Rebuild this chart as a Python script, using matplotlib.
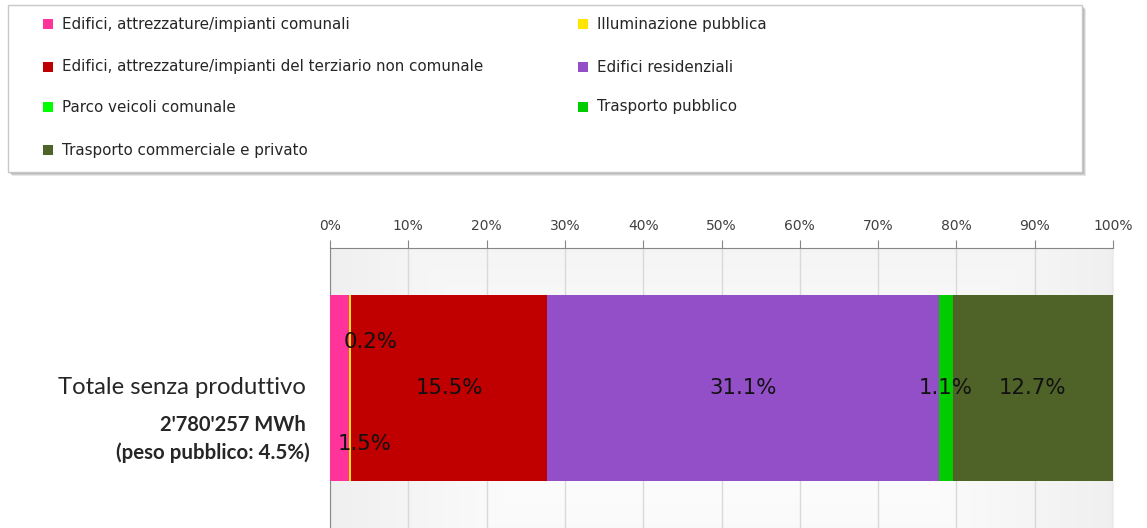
import matplotlib
matplotlib.use('Agg')
import matplotlib.pyplot as plt
import numpy as np
from matplotlib.patches import Rectangle

W, H = 1147, 528

series = [
    'Edifici, attrezzature/impianti comunali',
    'Illuminazione pubblica',
    'Edifici, attrezzature/impianti del terziario non comunale',
    'Edifici residenziali',
    'Parco veicoli comunale',
    'Trasporto pubblico',
    'Trasporto commerciale e privato',
]
values = [1.5, 0.2, 15.5, 31.1, 0.0, 1.1, 12.7]
colors = ['#FF3399', '#FFE600', '#C00000', '#934FC8', '#00FF00', '#00CC00', '#4F6228']
category = 'Totale senza produttivo'
total_label = "2'780'257 MWh"
peso_label = '(peso pubblico: 4.5%)'
x_ticks = [0, 10, 20, 30, 40, 50, 60, 70, 80, 90, 100]

fig = plt.figure(figsize=(W / 100, H / 100), dpi=100)


def fx(px):
    return px / W


def fy(py):
    return 1 - py / H


# legenda (disegnata a mano, con ombra)
lx0, ly0, lx1, ly1 = 8, 5, 1082, 172
for k, a in [(4, 0.25), (3, 0.35), (2, 0.45)]:
    fig.patches.append(Rectangle((fx(lx0 + k), fy(ly1 + k)), fx(lx1 - lx0), (ly1 - ly0) / H,
                                 transform=fig.transFigure, facecolor='#a0a0a0', edgecolor='none',
                                 alpha=a, zorder=0))
fig.patches.append(Rectangle((fx(lx0), fy(ly1)), fx(lx1 - lx0), (ly1 - ly0) / H,
                             transform=fig.transFigure, facecolor='white', edgecolor='#c8c8c8',
                             lw=1, zorder=1))
leg_pos = [(48, 24), (583, 24), (48, 67), (583, 67), (48, 107), (583, 107), (48, 150)]
for name, col, (px, py) in zip(series, colors, leg_pos):
    fig.patches.append(Rectangle((fx(px - 5), fy(py + 5)), fx(10), 10 / H,
                                 transform=fig.transFigure, facecolor=col, edgecolor='none', zorder=2))
    fig.text(fx(px + 14), fy(py), name, fontsize=10.9, color='#262626', va='center', ha='left',
             family='DejaVu Sans', zorder=3)

# grafico
ax = fig.add_axes([fx(330), 0, fx(1113) - fx(330), fy(248)])
gx = np.interp(np.linspace(0, 1, 300), [0, 0.3, 0.7, 1], [0.94, 1.0, 1.0, 0.94])
gy = np.interp(np.linspace(0, 1, 100), [0, 0.6, 1], [0.96, 1.0, 0.98])
grad = np.minimum(gx[None, :], gy[:, None])
bg = np.dstack([grad, grad, grad])
ax.imshow(bg, extent=[0, 1, 0, 1], transform=ax.transAxes, aspect='auto', zorder=0)

total = sum(values)
shares = [v / total * 100 for v in values]
left = 0
offsets = {0: (18, -40), 1: (15, 33)}
for i, (v, s, col) in enumerate(zip(values, shares, colors)):
    ax.barh(0, s, left=left, height=0.664, color=col, edgecolor='none', zorder=3)
    if v > 0:
        dx, dy = offsets.get(i, (0, 0))
        ax.annotate(f'{v:.1f}%', (left + s / 2, 0), xytext=(dx, dy), textcoords='offset points',
                    ha='center', va='center', fontsize=15.3, color='#111111', zorder=4,
                    family='DejaVu Sans')
    left += s

ax.set_xlim(0, 100)
ax.set_ylim(-0.5, 0.5)
ax.set_xticks(x_ticks)
ax.set_xticklabels([f'{t}%' for t in x_ticks], fontsize=10, color='#404040')
ax.xaxis.tick_top()
ax.tick_params(axis='x', direction='out', length=6, color='#868686', pad=5)
ax.set_yticks([])
ax.grid(axis='x', color='#d9d9d9', lw=1, zorder=1)
ax.set_axisbelow(True)
for side in ['right', 'bottom']:
    ax.spines[side].set_visible(False)
for side in ['top', 'left']:
    ax.spines[side].set_color('#868686')

fig.text(fx(306), fy(388), category, fontsize=17.2, ha='right', va='center', color='#262626',
         family='Lato')
fig.text(fx(306), fy(425), total_label, fontsize=14.5, ha='right', va='center', color='#262626',
         family='Lato', fontweight='bold')
fig.text(fx(310), fy(453), peso_label, fontsize=14.8, ha='right', va='center', color='#262626',
         family='Lato', fontweight='bold')

fig.savefig('out.png', dpi=100)
